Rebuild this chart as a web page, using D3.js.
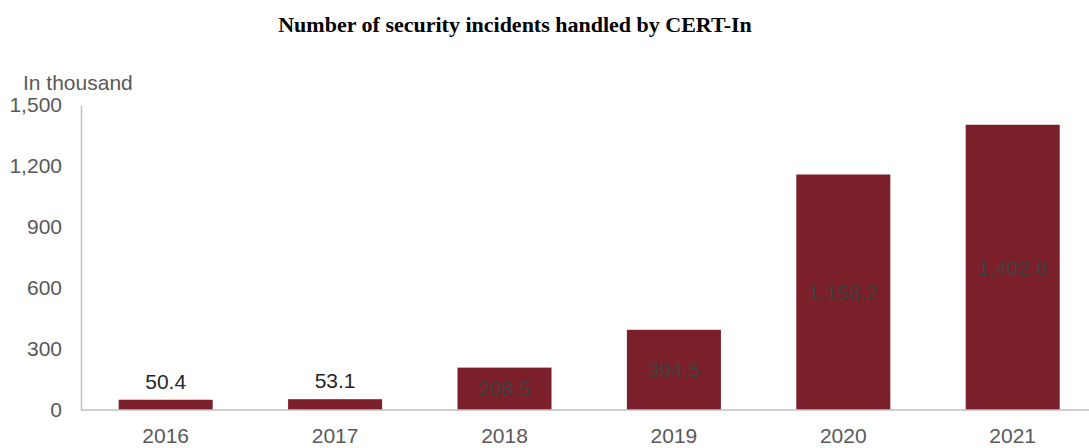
<!DOCTYPE html>
<html>
<head>
<meta charset="utf-8">
<script src="https://cdn.jsdelivr.net/npm/d3@7"></script>
<style>
  body { margin: 0; background: #fff; }
  svg { display: block; }
</style>
</head>
<body>
<svg id="chart" width="1089" height="448"></svg>
<script>
const years = ["2016", "2017", "2018", "2019", "2020", "2021"];
const incidents = [50.4, 53.1, 208.5, 394.5, 1158.2, 1402.8];
const yTicks = [0, 300, 600, 900, 1200, 1500];

const svg = d3.select("#chart");
const W = 1089, H = 448;
const plotLeft = 81, plotTop = 105, plotBottom = 410;

const x = d3.scaleBand()
    .domain(years)
    .range([plotLeft, plotLeft + 6 * 169.4])
    .paddingInner(0.445)
    .paddingOuter(0.2225);

const y = d3.scaleLinear()
    .domain([0, 1500])
    .range([plotBottom, plotTop]);

// title
svg.append("text")
    .attr("x", 515)
    .attr("y", 32)
    .attr("text-anchor", "middle")
    .style("font-family", "'Liberation Serif', 'Times New Roman', serif")
    .style("font-weight", "bold")
    .style("font-size", "22px")
    .style("fill", "#000")
    .text("Number of security incidents handled by CERT-In");

// unit label
svg.append("text")
    .attr("x", 23)
    .attr("y", 90)
    .style("font-family", "'Liberation Sans', Arial, sans-serif")
    .style("font-size", "21px")
    .style("fill", "#595959")
    .text("In thousand");

// y axis
const yAxis = svg.append("g")
    .attr("transform", `translate(${plotLeft},0)`)
    .call(d3.axisLeft(y).tickValues(yTicks).tickSize(0).tickPadding(19)
        .tickFormat(d3.format(",")));
yAxis.select(".domain").attr("stroke", "#bfbfbf").attr("stroke-width", 1.5);
yAxis.selectAll("text")
    .style("font-family", "'Liberation Sans', Arial, sans-serif")
    .style("font-size", "21px")
    .style("fill", "#595959");

// bars
svg.append("g")
    .selectAll("rect")
    .data(incidents)
    .join("rect")
    .attr("x", (d, i) => x(years[i]))
    .attr("width", x.bandwidth())
    .attr("y", d => y(d))
    .attr("height", d => y(0) - y(d))
    .attr("fill", "#7b1f2a");

// x axis
svg.append("line")
    .attr("x1", plotLeft).attr("x2", W)
    .attr("y1", y(0)).attr("y2", y(0))
    .attr("stroke", "#bfbfbf").attr("stroke-width", 1.5);

svg.append("g")
    .selectAll("text")
    .data(years)
    .join("text")
    .attr("x", d => x(d) + x.bandwidth() / 2)
    .attr("y", y(0) + 33)
    .attr("text-anchor", "middle")
    .style("font-family", "'Liberation Sans', Arial, sans-serif")
    .style("font-size", "21px")
    .style("fill", "#595959")
    .text(d => d);

// value labels
const fmt = d3.format(",.1f");
svg.append("g")
    .selectAll("text")
    .data(incidents)
    .join("text")
    .attr("x", (d, i) => x(years[i]) + x.bandwidth() / 2)
    .attr("y", d => d < 100 ? y(d) - 11 : (y(d) + y(0)) / 2)
    .attr("dy", d => d < 100 ? 0 : "0.35em")
    .attr("text-anchor", "middle")
    .style("font-family", "'Liberation Sans', Arial, sans-serif")
    .style("font-size", "21px")
    .style("fill", d => d < 100 ? "#262626" : "#404040")
    .text(d => fmt(d));
</script>
</body>
</html>
